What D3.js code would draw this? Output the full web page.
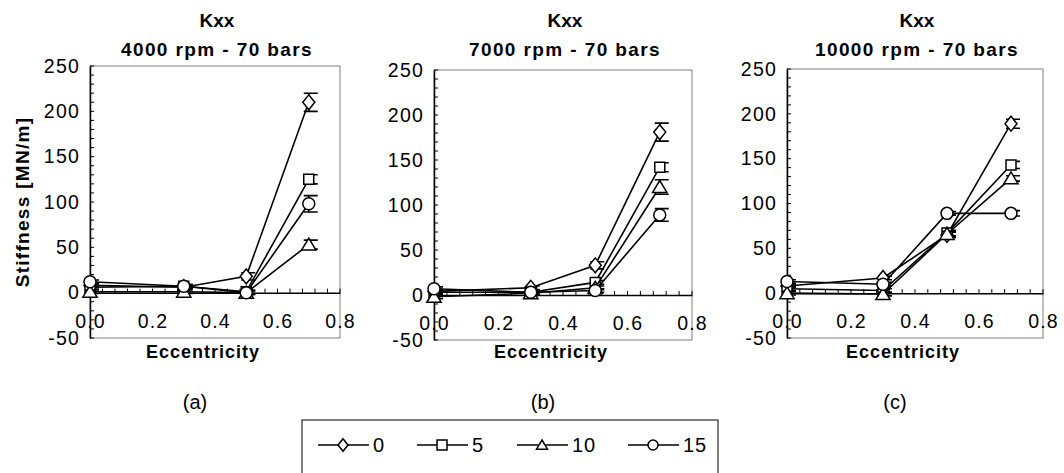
<!DOCTYPE html>
<html>
<head>
<meta charset="utf-8">
<script src="https://cdn.jsdelivr.net/npm/d3@7"></script>
<style>
  body { margin: 0; background: #fff; }
  svg { display: block; }
  text { font-family: "Liberation Sans", Arial, sans-serif; }
</style>
</head>
<body>
<div id="chart"></div>
<script>
// eccentricity values measured
var eccentricity = [0, 0.3, 0.5, 0.7];
var seriesNames = ["0", "5", "10", "15"];
var markerTypes = ["diamond", "square", "triangle", "circle"];

// stiffness Kxx [MN/m], one row per series (0, 5, 10, 15)
var kxx4000 = [[8, 6, 18, 210], [6, 7, 1, 125], [1, 1, 0, 53], [12, 7, 0, 98]];
var err4000 = [[2, 2, 4, 10], [2, 2, 2, 5], [2, 2, 2, 5], [2, 2, 2, 9]];
var kxx7000 = [[4, 8, 33, 181], [3, 3, 14, 142], [-2, 2, 8, 120], [7, 3, 5, 89]];
var err7000 = [[2, 2, 4, 10], [2, 2, 2, 5], [2, 2, 2, 8], [2, 2, 2, 7]];
var kxx10000 = [[8, 17, 65, 189], [5, 3, 67, 143], [0, -1, 66, 128], [13, 10, 89, 89]];
var err10000 = [[2, 2, 3, 5], [2, 2, 3, 4], [2, 2, 3, 3], [2, 2, 2, 3]];

var titles = ["4000 rpm - 70 bars", "7000 rpm - 70 bars", "10000 rpm - 70 bars"];
var captions = ["(a)", "(b)", "(c)"];
var yTicks = [-50, 0, 50, 100, 150, 200, 250];
var xTicks = [0, 0.2, 0.4, 0.6, 0.8];

var width = 1064, height = 473;

var svg = d3.select("#chart").append("svg")
  .attr("width", width)
  .attr("height", height);

// plot area boxes for each panel
var boxes = [
  { left: 90, right: 340, top: 66, bottom: 338 },
  { left: 434, right: 692, top: 70, bottom: 340 },
  { left: 787, right: 1043, top: 69, bottom: 338 }
];
var panelData = [
  { values: kxx4000, errors: err4000 },
  { values: kxx7000, errors: err7000 },
  { values: kxx10000, errors: err10000 }
];
var markerSize = { diamond: 12, square: 10, triangle: 13, circle: 12 };

function markerPath(type, size) {
  var s = size;
  if (type == "diamond") return "M0," + (-s * 0.62) + "L" + (s * 0.5) + ",0L0," + (s * 0.62) + "L" + (-s * 0.5) + ",0Z";
  if (type == "square") return "M" + (-s / 2) + "," + (-s / 2) + "h" + s + "v" + s + "h" + (-s) + "Z";
  if (type == "triangle") return "M0," + (-s * 0.5) + "L" + (s * 0.55) + "," + (s * 0.42) + "L" + (-s * 0.55) + "," + (s * 0.42) + "Z";
  return d3.arc()({ innerRadius: 0, outerRadius: s / 2, startAngle: 0, endAngle: 2 * Math.PI });
}

// hyphen instead of unicode minus, like the original
var yFormat = function (d) { return String(d); };

boxes.forEach(function (b, p) {
  var x = d3.scaleLinear().domain([0, 0.8]).range([b.left, b.right]);
  var y = d3.scaleLinear().domain([-50, 250]).range([b.bottom, b.top]);
  var g = svg.append("g");

  // plot frame
  g.append("rect")
    .attr("x", b.left).attr("y", b.top)
    .attr("width", b.right - b.left).attr("height", b.bottom - b.top)
    .attr("fill", "none").attr("stroke", "#808080").attr("stroke-width", 1);

  // y axis (minor ticks inward every 10)
  var yAxis = d3.axisLeft(y).tickValues(yTicks).tickSize(0).tickPadding(10).tickFormat(yFormat);
  var ya = g.append("g").attr("transform", "translate(" + b.left + ",0)").call(yAxis);
  ya.select(".domain").attr("stroke", "#000").attr("stroke-width", 1.5);
  ya.selectAll("text").attr("font-size", 19.5).attr("letter-spacing", 1.2).attr("fill", "#000");
  g.selectAll(".yminor").data(d3.range(-50, 251, 10)).join("line")
    .attr("x1", b.left).attr("x2", b.left + 4)
    .attr("y1", function (d) { return y(d); }).attr("y2", function (d) { return y(d); })
    .attr("stroke", "#000").attr("stroke-width", 1);

  // x axis crossing at zero
  var xAxis = d3.axisBottom(x).tickValues(xTicks).tickSize(0).tickPadding(21).tickFormat(d3.format(".1f"));
  var xa = g.append("g").attr("transform", "translate(0," + y(0) + ")").call(xAxis);
  xa.select(".domain").attr("stroke", "#000").attr("stroke-width", 1.5);
  xa.selectAll("text").attr("font-size", 19.5).attr("letter-spacing", 1.2).attr("fill", "#000");
  g.selectAll(".xminor").data(d3.range(0, 0.801, 0.04)).join("line")
    .attr("x1", function (d) { return x(d); }).attr("x2", function (d) { return x(d); })
    .attr("y1", y(0)).attr("y2", y(0) - 4)
    .attr("stroke", "#000").attr("stroke-width", 1);

  // titles
  var cx = (b.left + b.right) / 2;
  g.append("text").attr("x", cx + 2).attr("y", 27).attr("text-anchor", "middle")
    .attr("font-size", 19).attr("font-weight", "bold").text("Kxx");
  g.append("text").attr("x", cx + 2).attr("y", 56).attr("text-anchor", "middle")
    .attr("font-size", 19).attr("font-weight", "bold").attr("letter-spacing", 1.4).text(titles[p]);
  g.append("text").attr("x", cx - 12).attr("y", 358).attr("text-anchor", "middle")
    .attr("font-size", 18).attr("font-weight", "bold").attr("letter-spacing", 1).text("Eccentricity");
  g.append("text").attr("x", cx - 20).attr("y", 409).attr("text-anchor", "middle")
    .attr("font-family", "Liberation Serif, Times New Roman, serif")
    .attr("font-size", 20).text(captions[p]);

  var line = d3.line().x(function (d) { return x(d[0]); }).y(function (d) { return y(d[1]); });

  panelData[p].values.forEach(function (vals, s) {
    var pts = eccentricity.map(function (e, i) { return [e, vals[i], panelData[p].errors[s][i]]; });
    g.append("path").datum(pts).attr("d", line)
      .attr("fill", "none").attr("stroke", "#000").attr("stroke-width", 1.6);

    // error bars
    g.selectAll(".err" + s).data(pts).join("path")
      .attr("d", function (d) {
        var px = x(d[0]), y1 = y(d[1] + d[2]), y2 = y(d[1] - d[2]);
        return "M" + px + "," + y1 + "V" + y2 +
          "M" + (px - 5) + "," + y1 + "H" + (px + 9) +
          "M" + (px - 5) + "," + y2 + "H" + (px + 9);
      })
      .attr("stroke", "#000").attr("stroke-width", 1.6).attr("fill", "none");

    g.selectAll(".mk" + s).data(pts).join("path")
      .attr("transform", function (d) { return "translate(" + x(d[0]) + "," + y(d[1]) + ")"; })
      .attr("d", markerPath(markerTypes[s], markerSize[markerTypes[s]]))
      .attr("fill", "#fff").attr("stroke", "#000").attr("stroke-width", 1.5);
  });
});

// y axis title (only on first panel)
svg.append("text")
  .attr("transform", "translate(29,202) rotate(-90)")
  .attr("text-anchor", "middle")
  .attr("font-size", 19).attr("font-weight", "bold").attr("letter-spacing", 1.3)
  .text("Stiffness [MN/m]");

// legend
var legend = svg.append("g");
legend.append("rect")
  .attr("x", 302).attr("y", 420).attr("width", 416).attr("height", 70)
  .attr("fill", "#fff").attr("stroke", "#000").attr("stroke-width", 1);
var legendX = [318, 417, 517, 628];
seriesNames.forEach(function (name, s) {
  var lx = legendX[s];
  legend.append("line").attr("x1", lx).attr("x2", lx + 51).attr("y1", 445).attr("y2", 445)
    .attr("stroke", "#000").attr("stroke-width", 1.5);
  legend.append("path").attr("transform", "translate(" + (lx + 25) + ",445)")
    .attr("d", markerPath(markerTypes[s], 10))
    .attr("fill", "#fff").attr("stroke", "#000").attr("stroke-width", 1.5);
  legend.append("text").attr("x", lx + 55).attr("y", 452)
    .attr("font-size", 20).attr("letter-spacing", 1).text(name);
});
</script>
</body>
</html>
